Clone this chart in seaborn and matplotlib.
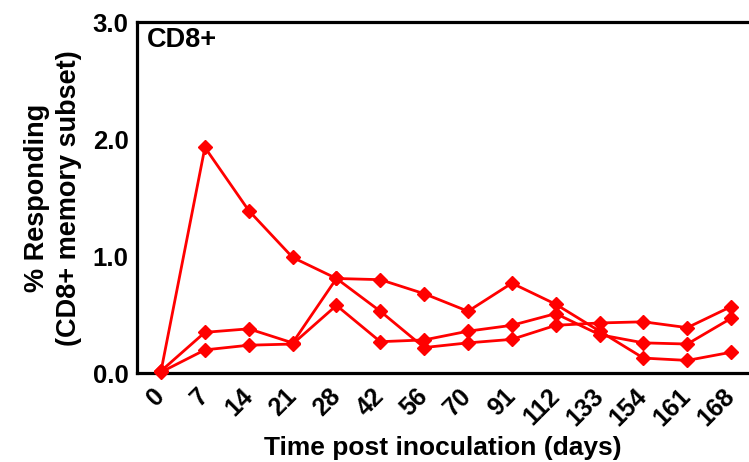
import matplotlib
matplotlib.use("Agg")
import matplotlib.pyplot as plt
import seaborn as sns
import pandas as pd

days = ['0', '7', '14', '21', '28', '42', '56', '70', '91', '112', '133', '154', '161', '168']
series_a = [0.02, 1.93, 1.39, 0.99, 0.81, 0.80, 0.68, 0.53, 0.77, 0.59, 0.36, 0.13, 0.11, 0.18]
series_b = [0.02, 0.35, 0.38, 0.26, 0.81, 0.53, 0.22, 0.26, 0.29, 0.41, 0.43, 0.44, 0.39, 0.57]
series_c = [0.01, 0.20, 0.24, 0.25, 0.58, 0.27, 0.285, 0.36, 0.41, 0.51, 0.33, 0.26, 0.25, 0.47]
series_names = ['A', 'B', 'C']
y_ticks = [0.0, 1.0, 2.0, 3.0]
y_tick_labels = ['0.0', '1.0', '2.0', '3.0']

rows = []
for name, vals in zip(series_names, [series_a, series_b, series_c]):
    for d, v in zip(days, vals):
        rows.append({'day': d, 'value': v, 'series': name})
df = pd.DataFrame(rows)

sns.set_style("white")
plt.rcParams['font.family'] = ['Liberation Sans', 'DejaVu Sans']
plt.rcParams['font.weight'] = 'bold'
plt.rcParams['text.color'] = 'black'
plt.rcParams['axes.labelcolor'] = 'black'
plt.rcParams['xtick.color'] = 'black'
plt.rcParams['ytick.color'] = 'black'

fig = plt.figure(figsize=(7.49, 4.62), dpi=100)
ax = fig.add_axes([0.183, 0.192, 0.816, 0.760])

sns.pointplot(data=df, x='day', y='value', hue='series', order=days,
              palette=['#ff0000'] * 3, markers='D', linestyles='-',
              errorbar=None, dodge=False, legend=False, ax=ax,
              markersize=7, linewidth=2.0)

for ln in ax.lines:
    ln.set_clip_on(False)
    ln.set_markeredgewidth(1.0)
    ln.set_markeredgecolor('#ff0000')
    ln.set_zorder(3)

ax.set_xlim(-0.547, 13.39)
ax.set_ylim(0, 3.0)
ax.set_yticks(y_ticks)
ax.set_yticklabels(y_tick_labels, fontsize=18.5, fontweight='bold')
ax.set_xticks(range(len(days)))
ax.set_xticklabels(days, fontsize=18, fontweight='bold', rotation=45,
                   ha='right', va='center', rotation_mode='anchor')

for s in ['left', 'bottom', 'top']:
    ax.spines[s].set_visible(True)
    ax.spines[s].set_linewidth(2.3)
    ax.spines[s].set_color('black')
ax.spines['right'].set_visible(False)

ax.tick_params(axis='both', which='major', direction='out', length=5,
               width=2.0, color='black', labelcolor='black')
ax.tick_params(axis='x', pad=8.5)
ax.tick_params(axis='y', pad=1)

ax.set_xlabel('Time post inoculation (days)', fontsize=19, fontweight='bold', labelpad=4.5)
ax.set_ylabel('% Responding\n(CD8+ memory subset)', fontsize=19.5, fontweight='bold',
              linespacing=1.3)
ax.yaxis.set_label_coords(-0.09, 0.5)

ax.text(0.016, 0.985, 'CD8+', transform=ax.transAxes, ha='left', va='top',
        fontsize=19.5, fontweight='bold')

fig.savefig('out.png', dpi=100)
